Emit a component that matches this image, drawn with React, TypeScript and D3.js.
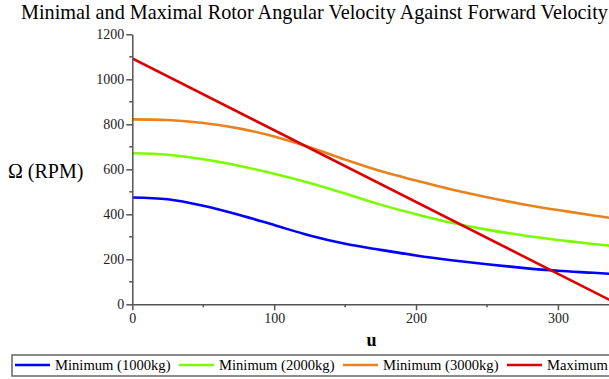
import React, { useEffect } from "react";
import * as d3 from "d3";

// forward velocity samples (u)
const uValues = [0, 25, 50, 75, 100, 125, 150, 175, 200, 225, 250, 275, 300, 325, 340];

// rotor angular velocity (RPM)
const min1000 = [475, 467, 438, 398, 352, 306, 269, 242, 217, 196, 178, 162, 149, 140, 134];
const min2000 = [671, 665, 645, 616, 580, 539, 492, 443, 400, 362, 332, 307, 286, 268, 258];
const min3000 = [822, 819, 806, 782, 746, 698, 643, 592, 550, 510, 476, 445, 419, 395, 381];
const maxU = [0, 340];
const maxRPM = [1093, 8];

const seriesNames = ["Minimum (1000kg)", "Minimum (2000kg)", "Minimum (3000kg)", "Maximum"];
const colors = ["#0000ff", "#7cfc00", "#e8821e", "#dd0000"];

const yTicks = [0, 200, 400, 600, 800, 1000, 1200];
const xTicks = [0, 100, 200, 300];

const App: React.FC = () => {
  useEffect(() => {
    d3.select("#chart").select("svg").remove();

    const W = 609;
    const H = 379;
    const left = 132.3;
    const right = 609;
    const top = 34.3;
    const bottom = 304.3;
    const serif = "Liberation Serif, Times New Roman, serif";

    const svg = d3
      .select("#chart")
      .append("svg")
      .attr("width", W)
      .attr("height", H)
      .style("position", "absolute")
      .style("left", 0)
      .style("top", 0)
      .style("background", "#fff");

    const x = d3.scaleLinear().domain([0, 336]).range([left, right]);
    const y = d3.scaleLinear().domain([0, 1200]).range([bottom, top]);

    // title
    svg
      .append("text")
      .attr("x", 21)
      .attr("y", 19)
      .attr("font-family", serif)
      .attr("font-size", 20.2)
      .attr("fill", "#000")
      .text("Minimal and Maximal Rotor Angular Velocity Against Forward Velocity");

    svg
      .append("clipPath")
      .attr("id", "plotclip")
      .append("rect")
      .attr("x", left)
      .attr("y", 0)
      .attr("width", right - left)
      .attr("height", bottom);

    // lines
    const tables = [min1000, min2000, min3000].map((vals) =>
      vals.map((v, i) => [uValues[i], v] as [number, number])
    );
    tables.push(maxRPM.map((v, i) => [maxU[i], v] as [number, number]));

    const line = d3
      .line<[number, number]>()
      .x((d) => x(d[0]))
      .y((d) => y(d[1]))
      .curve(d3.curveCatmullRom.alpha(0.5));

    svg
      .append("g")
      .attr("clip-path", "url(#plotclip)")
      .selectAll("path")
      .data(tables)
      .join("path")
      .attr("d", (d: any) => line(d))
      .attr("fill", "none")
      .attr("stroke", (d: any, i: number) => colors[i])
      .attr("stroke-width", 2.6);

    // axes
    const axisColor = "#555";
    const yAxis = svg
      .append("g")
      .attr("transform", `translate(${left},0)`)
      .call(
        d3
          .axisLeft(y)
          .tickValues(yTicks)
          .tickFormat(d3.format("d") as any)
          .tickSize(6)
          .tickPadding(2)
          .tickSizeOuter(0)
      );
    yAxis.attr("font-family", serif).attr("font-size", 14);
    yAxis.select(".domain").attr("stroke", axisColor).attr("stroke-width", 1.5);
    yAxis.selectAll(".tick line").attr("stroke", axisColor).attr("stroke-width", 1.5);
    yAxis.selectAll(".tick text").attr("fill", "#222");
    svg
      .append("g")
      .selectAll("line")
      .data(d3.range(100, 1200, 200))
      .join("line")
      .attr("x1", left - 3)
      .attr("x2", left)
      .attr("y1", (d) => y(d))
      .attr("y2", (d) => y(d))
      .attr("stroke", axisColor)
      .attr("stroke-width", 1.5);

    const xAxis = svg
      .append("g")
      .attr("transform", `translate(0,${bottom})`)
      .call(
        d3
          .axisBottom(x)
          .tickValues(xTicks)
          .tickFormat(d3.format("d") as any)
          .tickSize(6)
          .tickPadding(3)
          .tickSizeOuter(0)
      );
    xAxis.attr("font-family", serif).attr("font-size", 14);
    xAxis.select(".domain").attr("stroke", axisColor).attr("stroke-width", 1.5);
    xAxis.selectAll(".tick line").attr("stroke", axisColor).attr("stroke-width", 1.5);
    xAxis.selectAll(".tick text").attr("fill", "#222");
    svg
      .append("g")
      .selectAll("line")
      .data([50, 150, 250])
      .join("line")
      .attr("x1", (d) => x(d))
      .attr("x2", (d) => x(d))
      .attr("y1", bottom)
      .attr("y2", bottom + 3)
      .attr("stroke", axisColor)
      .attr("stroke-width", 1.5);

    // axis labels
    svg
      .append("text")
      .attr("x", 8)
      .attr("y", 178)
      .attr("font-family", serif)
      .attr("font-size", 20)
      .attr("fill", "#000")
      .text("Ω (RPM)");
    svg
      .append("text")
      .attr("x", 371.5)
      .attr("y", 346)
      .attr("text-anchor", "middle")
      .attr("font-family", serif)
      .attr("font-size", 18)
      .attr("font-weight", "bold")
      .attr("fill", "#000")
      .text("u");

    // legend
    svg
      .append("rect")
      .attr("x", 12)
      .attr("y", 355)
      .attr("width", 610)
      .attr("height", 21)
      .attr("fill", "#fff")
      .attr("stroke", "#666")
      .attr("stroke-width", 1.5);
    const legend = svg
      .append("g")
      .selectAll("g")
      .data(seriesNames)
      .join("g")
      .attr("transform", (d, i) => `translate(${15 + i * 164},365)`);
    legend
      .append("line")
      .attr("x1", 0)
      .attr("x2", 35)
      .attr("stroke", (d, i) => colors[i])
      .attr("stroke-width", 2.6);
    legend
      .append("text")
      .attr("x", 40)
      .attr("y", 5)
      .attr("font-family", serif)
      .attr("font-size", 14.6)
      .attr("fill", "#000")
      .text((d) => d);
  }, []);

  return <div id="chart" />;
};

export default App;
